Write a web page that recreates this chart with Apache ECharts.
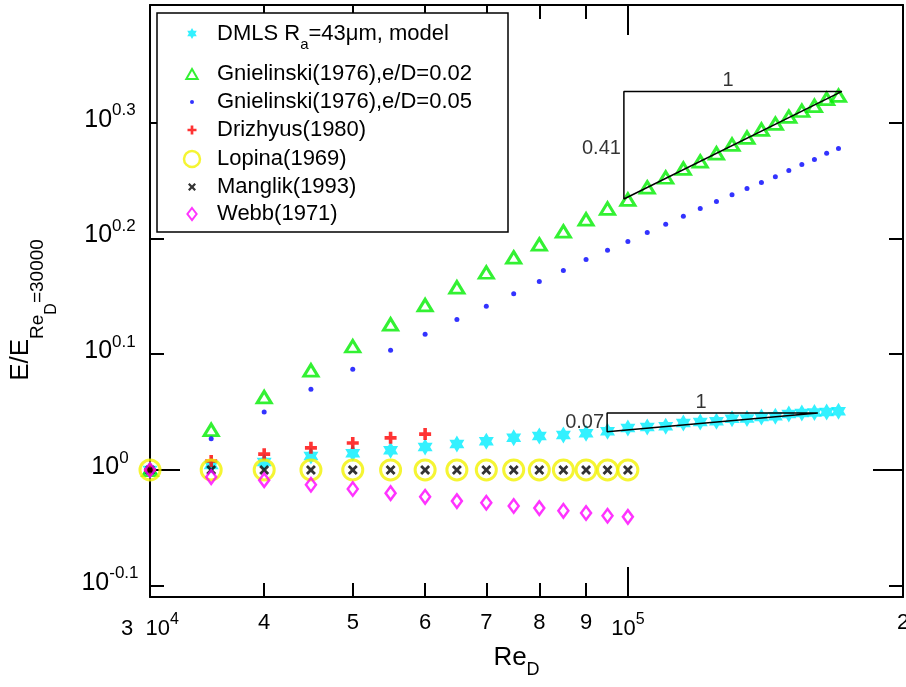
<!DOCTYPE html>
<html>
<head>
<meta charset="utf-8">
<script src="https://cdn.jsdelivr.net/npm/echarts@6.0.0/dist/echarts.min.js"></script>
<style>html,body{margin:0;padding:0;background:#fff}#c{width:906px;height:687px}</style>
</head>
<body>
<div id="c"></div>
<script>
// ---------------- data ----------------
const reFull = [30000,35000,40000,45000,50000,55000,60000,65000,70000,75000,80000,85000,90000,95000,100000,
  105000,110000,115000,120000,125000,130000,135000,140000,145000,150000,155000,160000,165000,170000];
const reLow = [30000,35000,40000,45000,50000,55000,60000,65000,70000,75000,80000,85000,90000,95000,100000];
const reDriz = [30000,35000,40000,45000,50000,55000,60000];

const dmls = [1.000,1.010,1.016,1.028,1.034,1.040,1.047,1.053,1.059,1.066,1.070,1.072,1.076,1.080,1.087,
  1.089,1.091,1.098,1.100,1.102,1.107,1.108,1.111,1.113,1.118,1.120,1.121,1.122,1.124];
const gn002 = [1.000,1.083,1.156,1.219,1.279,1.336,1.388,1.438,1.481,1.526,1.566,1.607,1.646,1.682,1.712,
  1.754,1.789,1.821,1.847,1.877,1.910,1.937,1.968,1.991,2.019,2.043,2.063,2.092,2.105];
const gn005 = [1.000,1.064,1.122,1.174,1.222,1.269,1.310,1.349,1.385,1.420,1.455,1.487,1.520,1.548,1.575,
  1.604,1.630,1.656,1.682,1.706,1.729,1.750,1.771,1.792,1.814,1.836,1.854,1.877,1.895];
const drizhyus = [1.000,1.018,1.032,1.045,1.055,1.066,1.074];
const lopina = [1,1,1,1,1,1,1,1,1,1,1,1,1,1,1];
const manglik = [1,1,1,1,1,1,1,1,1,1,1,1,1,1,1];
const webb = [1.000,0.986,0.980,0.971,0.963,0.955,0.948,0.940,0.937,0.931,0.927,0.922,0.918,0.913,0.911];

// slope triangles (Re, E ratio)
const tri041Re = [171500, 99000, 99000, 171500];
const tri041Val = [2.123, 2.123, 1.714, 2.123];
const tri007Re = [161400, 94900, 94900, 161400];
const tri007Val = [1.120, 1.120, 1.079, 1.120];
const riseRe = [99000, 94900];
const riseVal = [1.897, 1.100];
const riseText = ['0.41', '0.07'];
const runRe = [128700, 120250];
const runVal = [2.123, 1.120];
const runText = ['1', '1'];

// ticks
const xTickRe = [30000,40000,50000,60000,70000,80000,90000,100000,200000];
const xTickMain = ['3  10','4','5','6','7','8','9','10','2'];
const xTickSup = ['4','','','','','','','5',''];
const xLongRe = [100000];
const yTickExp = [-0.1, 0, 0.1, 0.2, 0.3];
const yTickMain = ['10','10','10','10','10'];
const yTickSup = ['-0.1','0','0.1','0.2','0.3'];
const yLongExp = [0];

const names = ['DMLS Ra=43μm, model','Gnielinski(1976),e/D=0.02','Gnielinski(1976),e/D=0.05',
  'Drizhyus(1980)','Lopina(1969)','Manglik(1993)','Webb(1971)'];

// ---------------- styles ----------------
const FONT = "'Liberation Sans', Arial, Helvetica, sans-serif";
const TXT = '#000';
const CYAN = '#00EEFF', GREEN = '#00EE00', BLUE = '#0000FF', RED = '#FF0000',
      YELLOW = '#F2F200', MAGENTA = '#FF00FF', NONE = 'rgba(0,0,0,0)';
const STAR = 'path://M0,-100L28.9,-50L86.6,-50L57.7,0L86.6,50L28.9,50L0,100L-28.9,50L-86.6,50L-57.7,0L-86.6,-50L-28.9,-50Z';
const PLUS = 'path://M-15,-50L15,-50L15,-15L50,-15L50,15L15,15L15,50L-15,50L-15,15L-50,15L-50,-15L-15,-15Z';
const CROSS = 'path://M-50,-30L-30,-50L0,-20L30,-50L50,-30L20,0L50,30L30,50L0,20L-30,50L-50,30L-20,0Z';
const DIAMOND = 'path://M0,-65L50,0L0,65L-50,0Z';
const TRIANGLE = 'path://M0,-50L57,50L-57,50Z';

const lg = v => Math.log10(v);
const pts = (xs, ys) => xs.map((x, i) => [lg(x), lg(ys[i])]);
const nearest = (arr, v) => { let bi = 0, bd = Infinity; arr.forEach((a, i) => { const d = Math.abs(a - v); if (d < bd) { bd = d; bi = i; } }); return bi; };

const X0 = lg(30000), X1 = lg(200000);
const Y0 = -0.1097, Y1 = 0.4016;
const xTickVals = xTickRe.map(lg);
const xLongVals = xLongRe.map(lg);

const lineSt = {color: '#000', width: 2};
function xAxisDef(pos, ticks, len, withLabel, withLine) {
  const ax = {
    type: 'value', gridIndex: 0, position: pos, min: X0, max: X1,
    axisLine: {show: withLine, onZero: false, lineStyle: lineSt},
    axisTick: {show: true, inside: true, length: len, customValues: ticks, lineStyle: lineSt},
    axisLabel: {show: false},
    splitLine: {show: false}, minorTick: {show: false}
  };
  if (withLabel) {
    ax.axisLabel = {
      show: true, customValues: ticks, margin: 15, color: TXT, fontSize: 22, fontFamily: FONT,
      formatter: v => { const i = nearest(xTickVals, v); return xTickSup[i] ? `{b|${xTickMain[i]}}{s|${xTickSup[i]}}` : `{b|${xTickMain[i]}}`; },
      rich: {
        b: {fontSize: 22, fontFamily: FONT, color: TXT},
        s: {fontSize: 16, fontFamily: FONT, color: TXT, padding: [0, 0, 18, 0]}
      }
    };
    ax.name = '{m|Re}{s|D}';
    ax.nameLocation = 'middle';
    ax.nameGap = 40;
    ax.nameMoveOverlap = false;
    ax.nameTextStyle = {
      padding: [0, 20, 0, 0],
      rich: {
        m: {fontSize: 26, fontFamily: FONT, color: TXT},
        s: {fontSize: 18, fontFamily: FONT, color: TXT, padding: [24, 0, 0, 0]}
      }
    };
  }
  return ax;
}
function yAxisDef(pos, ticks, len, withLabel, withLine) {
  const ax = {
    type: 'value', gridIndex: 0, position: pos, min: Y0, max: Y1,
    axisLine: {show: withLine, onZero: false, lineStyle: lineSt},
    axisTick: {show: true, inside: true, length: len, customValues: ticks, lineStyle: lineSt},
    axisLabel: {show: false},
    splitLine: {show: false}, minorTick: {show: false}
  };
  if (withLabel) {
    ax.axisLabel = {
      show: true, customValues: ticks, margin: 40, align: 'center', color: TXT, fontSize: 24, fontFamily: FONT,
      formatter: v => { const i = nearest(yTickExp, v); return `{b|${yTickMain[i]}}{s|${yTickSup[i]}}`; },
      rich: {
        b: {fontSize: 25, fontFamily: FONT, color: TXT, padding: [0, 0, 6, 0]},
        s: {fontSize: 17, fontFamily: FONT, color: TXT, padding: [0, 0, 24, 0]}
      }
    };
  }
  return ax;
}

// legend rows: icon height, icon drawn width (for centring), text row centre
const legendRows = [
  {cy: 33, h: 11, w: 9.5, icon: STAR, style: {color: CYAN, borderWidth: 0}, fmt: '{n|DMLS R}{s|a}{n|=43μm, model}', tall: true},
  {cy: 72, h: 10, w: 13.4, icon: TRIANGLE, style: {color: NONE, borderColor: GREEN, borderWidth: 2}},
  {cy: 100, h: 4, w: 4, icon: 'circle', style: {color: BLUE, borderWidth: 0}},
  {cy: 128, h: 9, w: 9, icon: PLUS, style: {color: RED, borderWidth: 0}},
  {cy: 157, h: 16, w: 18.5, icon: 'circle', style: {color: NONE, borderColor: YELLOW, borderWidth: 2.5}},
  {cy: 185, h: 8, w: 8, icon: CROSS, style: {color: '#000', borderWidth: 0}},
  {cy: 212, h: 12, w: 11.2, icon: DIAMOND, style: {color: NONE, borderColor: MAGENTA, borderWidth: 2}}
];
const legends = legendRows.map((r, i) => ({
  show: true, selectedMode: false, orient: 'vertical', left: 192 - r.w / 2, top: r.cy - (r.tall ? 10.5 : 9),
  padding: 0, itemWidth: 40, itemHeight: r.h, itemGap: 0, z: 6,
  data: [{name: names[i], icon: r.icon, itemStyle: r.style}],
  formatter: r.fmt ? r.fmt : '{name}',
  textStyle: {
    fontSize: 22, fontFamily: FONT, color: TXT,
    rich: {
      n: {fontSize: 22, fontFamily: FONT, color: TXT},
      s: {fontSize: 15, fontFamily: FONT, color: TXT, padding: [22, 0, 0, 0]}
    }
  }
}));

const hollow = (c, w) => ({color: NONE, borderColor: c, borderWidth: w});
const scatterBase = {type: 'scatter', clip: false, silent: true, emphasis: {disabled: true}};

const option = {
  animation: false,
  backgroundColor: '#fff',
  grid: {left: 150, right: 3, top: 5, bottom: 90, containLabel: false, outerBoundsMode: 'none'},
  xAxis: [
    xAxisDef('bottom', xTickVals, 14, true, true),
    xAxisDef('bottom', xLongVals, 30, false, false),
    xAxisDef('top', xTickVals, 14, false, true),
    xAxisDef('top', xLongVals, 30, false, false)
  ],
  yAxis: [
    yAxisDef('left', yTickExp, 14, true, true),
    yAxisDef('left', yLongExp, 30, false, false),
    yAxisDef('right', yTickExp, 14, false, true),
    yAxisDef('right', yLongExp, 30, false, false)
  ],
  legend: legends,
  series: [
    Object.assign({}, scatterBase, {name: names[0], data: pts(reFull, dmls), symbol: STAR, symbolSize: [15, 17], itemStyle: {color: CYAN}}),
    Object.assign({}, scatterBase, {name: names[1], data: pts(reFull, gn002), symbol: 'triangle', symbolSize: [14, 11.5], itemStyle: hollow(GREEN, 3)}),
    Object.assign({}, scatterBase, {name: names[2], data: pts(reFull, gn005), symbol: 'circle', symbolSize: 5, itemStyle: {color: BLUE}}),
    Object.assign({}, scatterBase, {name: names[3], data: pts(reDriz, drizhyus), symbol: PLUS, symbolSize: 12, itemStyle: {color: RED}}),
    Object.assign({}, scatterBase, {name: names[4], data: pts(reLow, lopina), symbol: 'circle', symbolSize: 20, itemStyle: hollow(YELLOW, 3)}),
    Object.assign({}, scatterBase, {name: names[5], data: pts(reLow, manglik), symbol: CROSS, symbolSize: 10, itemStyle: {color: '#000'}}),
    Object.assign({}, scatterBase, {name: names[6], data: pts(reLow, webb), symbol: DIAMOND, symbolSize: [10, 13.5], itemStyle: hollow(MAGENTA, 2.5)}),
    {type: 'line', name: 'slope041', data: pts(tri041Re, tri041Val), showSymbol: false, symbol: 'none', silent: true, z: 3,
      lineStyle: {color: '#000', width: 1.5}, clip: false},
    {type: 'line', name: 'slope007', data: pts(tri007Re, tri007Val), showSymbol: false, symbol: 'none', silent: true, z: 3,
      lineStyle: {color: '#000', width: 1.5}, clip: false},
    Object.assign({}, scatterBase, {name: 'rise', z: 3, symbolSize: 0, itemStyle: {color: '#000'},
      data: riseRe.map((x, i) => ({value: [lg(x), lg(riseVal[i])], name: riseText[i]})),
      label: {show: true, position: 'left', distance: 3, formatter: '{b}', fontSize: 20, fontFamily: FONT, color: '#000'}}),
    Object.assign({}, scatterBase, {name: 'run', z: 3, symbolSize: 0, itemStyle: {color: '#000'},
      data: runRe.map((x, i) => ({value: [lg(x), lg(runVal[i])], name: runText[i]})),
      label: {show: true, position: 'top', distance: 1, formatter: '{b}', fontSize: 20, fontFamily: FONT, color: '#000'}})
  ],
  graphic: {
    elements: [
      {type: 'rect', z: 3, silent: true, shape: {x: 157, y: 13, width: 351, height: 219},
        style: {fill: '#fff', stroke: '#000', lineWidth: 1.5}},
      {type: 'text', z: 3, silent: true, x: 21, y: 310, rotation: Math.PI / 2,
        style: {
          text: '{m|E/E}{s|Re}{ss|D}{s|=30000}', align: 'center', verticalAlign: 'middle', fill: TXT,
          rich: {
            m: {fontSize: 26, fontFamily: FONT, fill: TXT},
            s: {fontSize: 19, fontFamily: FONT, fill: TXT, padding: [34, 0, 0, 0]},
            ss: {fontSize: 16, fontFamily: FONT, fill: TXT, padding: [62, 0, 0, 0]}
          }
        }}
    ]
  }
};

const chart = echarts.init(document.getElementById('c'), null, {renderer: 'canvas'});
chart.setOption(option);
</script>
</body>
</html>
